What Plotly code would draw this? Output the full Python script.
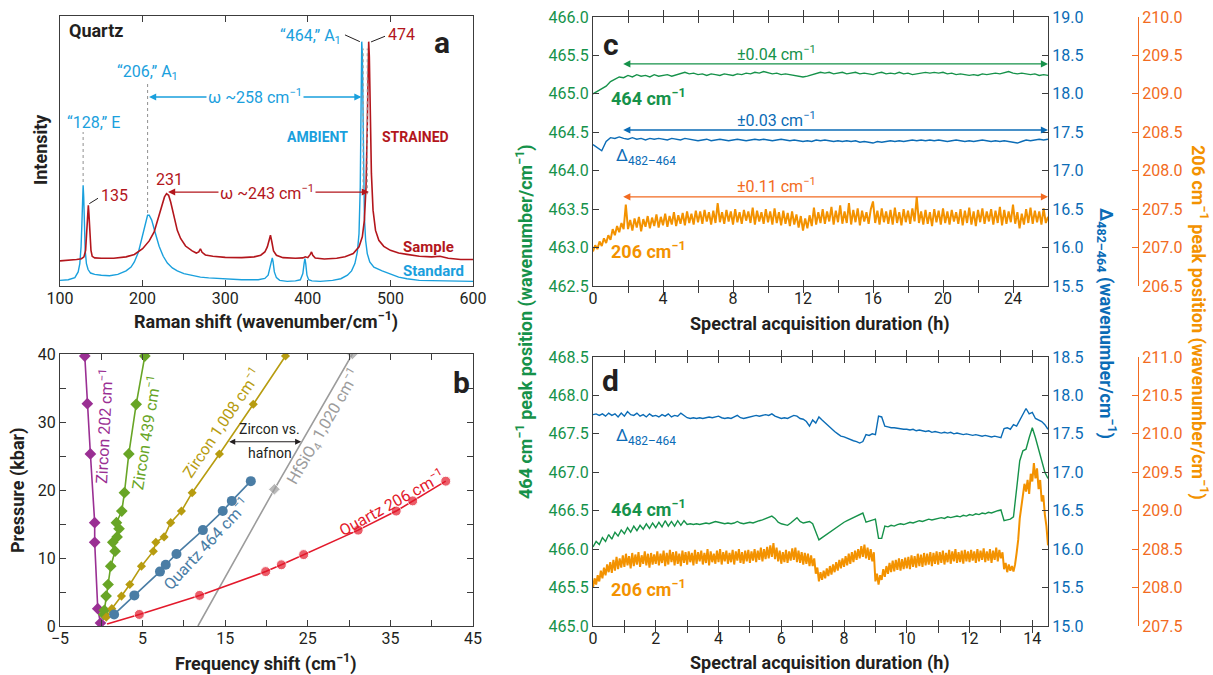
import plotly.graph_objects as go

# ---------------- DATA ----------------
# Panel a: Raman spectra (intensity in arbitrary units)
STD_SHIFT = [100, 110, 118, 122, 124, 125.5, 126.5, 127.3, 128, 128.7, 129.5, 130.5, 132, 134, 137, 142, 150, 160,
             170, 180, 186, 190, 195, 199, 203, 206, 208, 211, 215, 220, 225, 230, 236, 242, 250, 258, 265, 270,
             280, 300, 320, 340, 348, 352, 354.5, 356, 357, 358, 359.5, 362, 366, 375, 385, 391, 394, 395.5, 396.5,
             397.5, 399, 401, 405, 415, 430, 440, 448, 453, 457, 460, 462, 463.5, 464.5, 465.3, 466, 466.7, 467.5,
             468.5, 470, 472, 475, 480, 490, 500, 510, 520, 535, 550, 575, 600]
STD_INT = [2.1, 2.3, 3.1, 5.2, 8.3, 14.5, 23.1, 31.8, 37.3, 33.0, 21.9, 13.2, 8.3, 6.1, 4.8, 4.3, 4.0, 3.8,
           4.3, 5.6, 7.0, 8.9, 12.6, 17.6, 23.1, 26.2, 26.2, 24.4, 20.0, 14.7, 11.0, 8.5, 6.7, 5.6, 4.6, 4.0, 3.6, 3.3,
           3.0, 2.6, 2.3, 2.3, 2.8, 4.0, 7.0, 9.8, 10.4, 8.9, 5.2, 3.1, 2.1, 1.7, 1.9, 2.3, 4.6, 8.3, 10.1,
           8.3, 4.0, 2.3, 1.9, 1.7, 2.1, 2.7, 4.0, 5.6, 8.3, 12.6, 19.4, 36.7, 68.9, 90.5, 86.2, 65.1, 40.4,
           25.6, 16.9, 12.0, 8.9, 7.0, 5.6, 4.3, 3.3, 2.7, 2.1, 2.0, 1.9, 1.7]
SMP_SHIFT = [100, 110, 120, 126, 129, 131, 132.5, 133.5, 134.3, 135, 136, 137.5, 139, 142, 150, 165, 180, 190, 200,
             208, 214, 219, 223, 226.5, 229, 231.5, 234, 238, 242, 246, 252, 260, 265, 268, 270, 272, 276, 285,
             300, 320, 335, 343, 348, 351, 353, 354.8, 356.5, 358.5, 362, 370, 385, 394, 397, 400, 403, 404.5,
             406, 409, 420, 435, 445, 455, 462, 466, 468.5, 470.5, 472, 473, 473.7, 474.5, 475.5, 477, 479, 482,
             486, 492, 500, 510, 520, 535, 550, 560, 570, 585, 600]
SMP_INT = [9.3, 9.5, 9.8, 10.1, 10.8, 13.2, 19.4, 26.8, 29.9, 26.8, 19.4, 13.2, 11.0, 10.4, 10.3, 10.3, 10.8, 11.7, 13.8,
           16.7, 20.0, 25.0, 29.9, 33.0, 34.2, 33.6, 31.1, 25.6, 20.6, 17.6, 14.8, 13.0, 12.2, 12.6, 13.8, 12.5, 11.5, 11.0,
           10.6, 10.5, 10.8, 11.4, 12.6, 14.5, 16.9, 18.8, 16.3, 13.0, 11.4, 10.5, 10.3, 10.4, 10.8, 10.5, 11.7, 12.6,
           11.4, 10.4, 10.0, 10.3, 10.8, 12.0, 14.5, 18.2, 24.4, 36.7, 59.0, 81.2, 90.5, 84.9, 65.1, 41.7, 28.1, 20.6,
           16.9, 14.7, 13.2, 12.2, 11.7, 11.0, 10.8, 11.0, 10.3, 9.8, 9.8]

# Panel b: pressure vs frequency shift
Z202_SHIFT = [-0.1, -0.43, -0.8, -0.8, -1.32, -1.69, -2.0]
Z202_P = [0.44, 2.55, 12.3, 15.2, 25.3, 32.7, 39.7]
Z439_SHIFT = [0.3, 0.37, 0.58, 0.82, 1.14, 1.67, 1.39, 1.91, 2.15, 1.83, 2.48, 2.8, 3.33, 4.22, 5.27]
Z439_P = [1.7, 2.3, 4.4, 6.1, 8.8, 11.0, 12.3, 13.1, 14.3, 15.2, 16.9, 19.6, 25.3, 32.6, 39.7]
Z1008_SHIFT = [0.6, 1.27, 2.44, 3.45, 4.86, 6.3, 6.6, 7.6, 8.4, 9.7, 11.0, 14.3, 18.4, 22.3]
Z1008_P = [1.3, 2.55, 4.4, 6.1, 8.8, 11.0, 12.3, 13.1, 15.2, 16.9, 19.6, 25.3, 32.6, 39.7]
HF_SHIFT = [11.7, 20.95, 30.4]
HF_P = [0.0, 20.1, 40.0]
Q464_SHIFT = [1.55, 4.0, 7.1, 7.8, 9.1, 12.3, 14.7, 15.8, 18.1]
Q464_P = [1.7, 4.5, 8.0, 9.0, 10.6, 14.1, 16.9, 18.4, 21.3]
Q206_SHIFT = [0.7, 4.6, 11.9, 19.9, 21.8, 24.5, 31.1, 35.7, 37.7, 41.7]
Q206_P = [0.3, 1.7, 4.5, 8.0, 9.0, 10.5, 14.1, 16.9, 18.4, 21.3]

# Panel c: 26 h acquisition
C_TIME = [0, 0.25, 0.5, 0.75, 1, 1.25, 1.5, 1.75,
          2, 2.25, 2.5, 2.75, 3, 3.25, 3.5, 3.75,
          4, 4.25, 4.5, 4.75, 5, 5.25, 5.5, 5.75,
          6, 6.25, 6.5, 6.75, 7, 7.25, 7.5, 7.75,
          8, 8.25, 8.5, 8.75, 9, 9.25, 9.5, 9.75,
          10, 10.25, 10.5, 10.75, 11, 11.25, 11.5, 11.75,
          12, 12.25, 12.5, 12.75, 13, 13.25, 13.5, 13.75,
          14, 14.25, 14.5, 14.75, 15, 15.25, 15.5, 15.75,
          16, 16.25, 16.5, 16.75, 17, 17.25, 17.5, 17.75,
          18, 18.25, 18.5, 18.75, 19, 19.25, 19.5, 19.75,
          20, 20.25, 20.5, 20.75, 21, 21.25, 21.5, 21.75,
          22, 22.25, 22.5, 22.75, 23, 23.25, 23.5, 23.75,
          24, 24.25, 24.5, 24.75, 25, 25.25, 25.5, 25.75,
          26]
C_464 = [465.00, 465.03, 465.06, 465.10, 465.16, 465.19, 465.22, 465.21,
         465.24, 465.22, 465.25, 465.23, 465.24, 465.22, 465.25, 465.23,
         465.24, 465.25, 465.23, 465.25, 465.26, 465.28, 465.26, 465.27,
         465.25, 465.26, 465.24, 465.26, 465.25, 465.24, 465.26, 465.25,
         465.24, 465.26, 465.25, 465.27, 465.26, 465.28, 465.27, 465.29,
         465.27, 465.26, 465.27, 465.25, 465.26, 465.25, 465.24, 465.23,
         465.22, 465.23, 465.25, 465.27, 465.28, 465.27, 465.28, 465.26,
         465.27, 465.28, 465.26, 465.27, 465.28, 465.26, 465.27, 465.26,
         465.25, 465.27, 465.28, 465.26, 465.27, 465.26, 465.28, 465.26,
         465.27, 465.25, 465.26, 465.27, 465.28, 465.27, 465.28, 465.27,
         465.28, 465.26, 465.27, 465.25, 465.26, 465.25, 465.24, 465.25,
         465.24, 465.26, 465.25, 465.26, 465.27, 465.26, 465.28, 465.29,
         465.27, 465.26, 465.27, 465.26, 465.25, 465.26, 465.24, 465.25,
         465.24]
C_DELTA = [17.34, 17.30, 17.26, 17.38, 17.43, 17.42, 17.44, 17.42,
           17.41, 17.43, 17.41, 17.42, 17.40, 17.42, 17.41, 17.42,
           17.41, 17.40, 17.42, 17.41, 17.40, 17.42, 17.41, 17.40,
           17.39, 17.40, 17.41, 17.39, 17.40, 17.41, 17.40, 17.39,
           17.40, 17.41, 17.40, 17.39, 17.40, 17.41, 17.40, 17.41,
           17.40, 17.39, 17.40, 17.41, 17.40, 17.39, 17.40, 17.39,
           17.38, 17.39, 17.38, 17.40, 17.39, 17.40, 17.39, 17.38,
           17.39, 17.38, 17.39, 17.38, 17.39, 17.37, 17.38, 17.37,
           17.36, 17.38, 17.37, 17.38, 17.39, 17.38, 17.39, 17.38,
           17.39, 17.40, 17.39, 17.40, 17.39, 17.40, 17.39, 17.40,
           17.39, 17.38, 17.39, 17.40, 17.39, 17.38, 17.39, 17.38,
           17.39, 17.40, 17.39, 17.38, 17.39, 17.38, 17.39, 17.38,
           17.37, 17.36, 17.38, 17.40, 17.39, 17.40, 17.41, 17.40,
           17.41]
C_TIME_206 = [0, 0.125, 0.25, 0.375, 0.5, 0.625, 0.75, 0.875,
              1, 1.125, 1.25, 1.375, 1.5, 1.625, 1.75, 1.875,
              2, 2.125, 2.25, 2.375, 2.5, 2.625, 2.75, 2.875,
              3, 3.125, 3.25, 3.375, 3.5, 3.625, 3.75, 3.875,
              4, 4.125, 4.25, 4.375, 4.5, 4.625, 4.75, 4.875,
              5, 5.125, 5.25, 5.375, 5.5, 5.625, 5.75, 5.875,
              6, 6.125, 6.25, 6.375, 6.5, 6.625, 6.75, 6.875,
              7, 7.125, 7.25, 7.375, 7.5, 7.625, 7.75, 7.875,
              8, 8.125, 8.25, 8.375, 8.5, 8.625, 8.75, 8.875,
              9, 9.125, 9.25, 9.375, 9.5, 9.625, 9.75, 9.875,
              10, 10.125, 10.25, 10.375, 10.5, 10.625, 10.75, 10.875,
              11, 11.125, 11.25, 11.375, 11.5, 11.625, 11.75, 11.875,
              12, 12.125, 12.25, 12.375, 12.5, 12.625, 12.75, 12.875,
              13, 13.125, 13.25, 13.375, 13.5, 13.625, 13.75, 13.875,
              14, 14.125, 14.25, 14.375, 14.5, 14.625, 14.75, 14.875,
              15, 15.125, 15.25, 15.375, 15.5, 15.625, 15.75, 15.875,
              16, 16.125, 16.25, 16.375, 16.5, 16.625, 16.75, 16.875,
              17, 17.125, 17.25, 17.375, 17.5, 17.625, 17.75, 17.875,
              18, 18.125, 18.25, 18.375, 18.5, 18.625, 18.75, 18.875,
              19, 19.125, 19.25, 19.375, 19.5, 19.625, 19.75, 19.875,
              20, 20.125, 20.25, 20.375, 20.5, 20.625, 20.75, 20.875,
              21, 21.125, 21.25, 21.375, 21.5, 21.625, 21.75, 21.875,
              22, 22.125, 22.25, 22.375, 22.5, 22.625, 22.75, 22.875,
              23, 23.125, 23.25, 23.375, 23.5, 23.625, 23.75, 23.875,
              24, 24.125, 24.25, 24.375, 24.5, 24.625, 24.75, 24.875,
              25, 25.125, 25.25, 25.375, 25.5, 25.625, 25.75, 25.875,
              26]
C_206 = [206.95, 207.03, 206.98, 207.08, 207.02, 207.12, 207.06, 207.16,
         207.10, 207.24, 207.16, 207.28, 207.20, 207.32, 207.24, 207.56,
         207.24, 207.36, 207.22, 207.38, 207.26, 207.40, 207.21, 207.37,
         207.27, 207.41, 207.25, 207.39, 207.28, 207.43, 207.26, 207.40,
         207.29, 207.44, 207.27, 207.41, 207.30, 207.46, 207.28, 207.42,
         207.31, 207.45, 207.29, 207.47, 207.32, 207.44, 207.30, 207.48,
         207.33, 207.47, 207.31, 207.49, 207.34, 207.46, 207.30, 207.48,
         207.32, 207.58, 207.33, 207.46, 207.31, 207.49, 207.34, 207.47,
         207.30, 207.50, 207.33, 207.46, 207.31, 207.49, 207.35, 207.47,
         207.32, 207.52, 207.30, 207.48, 207.34, 207.46, 207.31, 207.50,
         207.33, 207.47, 207.30, 207.51, 207.32, 207.46, 207.29, 207.48,
         207.31, 207.45, 207.28, 207.47, 207.30, 207.43, 207.26, 207.41,
         207.22, 207.38, 207.25, 207.42, 207.28, 207.52, 207.30, 207.46,
         207.32, 207.50, 207.31, 207.47, 207.34, 207.53, 207.30, 207.48,
         207.33, 207.55, 207.31, 207.47, 207.32, 207.58, 207.30, 207.49,
         207.33, 207.51, 207.29, 207.48, 207.34, 207.46, 207.31, 207.50,
         207.60, 207.32, 207.48, 207.30, 207.51, 207.33, 207.47, 207.31,
         207.49, 207.30, 207.52, 207.32, 207.46, 207.29, 207.50, 207.33,
         207.48, 207.31, 207.51, 207.34, 207.66, 207.32, 207.47, 207.30,
         207.49, 207.31, 207.46, 207.28, 207.50, 207.33, 207.48, 207.30,
         207.51, 207.32, 207.47, 207.30, 207.49, 207.34, 207.46, 207.31,
         207.50, 207.29, 207.48, 207.32, 207.52, 207.30, 207.47, 207.28,
         207.49, 207.33, 207.51, 207.31, 207.47, 207.34, 207.50, 207.30,
         207.48, 207.32, 207.53, 207.29, 207.49, 207.31, 207.47, 207.33,
         207.56, 207.31, 207.46, 207.25, 207.44, 207.30, 207.50, 207.32,
         207.52, 207.31, 207.48, 207.33, 207.47, 207.30, 207.51, 207.32,
         207.40]

# Panel d: 14.5 h acquisition
D_TIME = [0.0, 0.1, 0.2, 0.3, 0.4, 0.5, 0.6, 0.7, 0.8, 0.9,
          1.0, 1.1, 1.2, 1.3, 1.4, 1.5, 1.6, 1.7, 1.8, 1.9,
          2.0, 2.1, 2.2, 2.3, 2.4, 2.5, 2.6, 2.7, 2.8, 2.9,
          3.0, 3.1, 3.2, 3.3, 3.4, 3.5, 3.6, 3.7, 3.8, 3.9,
          4.0, 4.1, 4.2, 4.3, 4.4, 4.5, 4.6, 4.7, 4.8, 4.9,
          5.0, 5.1, 5.2, 5.3, 5.4, 5.5, 5.6, 5.7, 5.8, 5.9,
          6.0, 6.1, 6.2, 6.3, 6.4, 6.5, 6.6, 6.7, 6.8, 6.9,
          7.0, 7.1, 7.2, 7.3, 7.4, 7.5, 7.6, 7.7, 7.8, 7.9,
          8.0, 8.1, 8.2, 8.3, 8.4, 8.5, 8.6, 8.7, 8.8, 8.9,
          9.0, 9.1, 9.2, 9.3, 9.4, 9.5, 9.6, 9.7, 9.8, 9.9,
          10.0, 10.1, 10.2, 10.3, 10.4, 10.5, 10.6, 10.7, 10.8, 10.9,
          11.0, 11.1, 11.2, 11.3, 11.4, 11.5, 11.6, 11.7, 11.8, 11.9,
          12.0, 12.1, 12.2, 12.3, 12.4, 12.5, 12.6, 12.7, 12.8, 12.9,
          13.0, 13.1, 13.2, 13.3, 13.4, 13.5, 13.6, 13.7, 13.8, 13.9,
          14.0, 14.1, 14.2, 14.3, 14.4, 14.5]
D_464 = [466.03, 466.10, 466.06, 466.15, 466.10, 466.19, 466.13, 466.22, 466.17, 466.25,
         466.20, 466.28, 466.22, 466.30, 466.24, 466.31, 466.26, 466.33, 466.27, 466.34,
         466.28, 466.35, 466.29, 466.37, 466.30, 466.36, 466.30, 466.37, 466.31, 466.37,
         466.32, 466.33, 466.32, 466.33, 466.32, 466.33, 466.34, 466.33, 466.35, 466.36,
         466.35, 466.34, 466.33, 466.34, 466.33, 466.34, 466.36, 466.34, 466.33, 466.34,
         466.35, 466.34, 466.36, 466.37, 466.38, 466.40, 466.42, 466.43, 466.40, 466.35,
         466.33, 466.32, 466.31, 466.34, 466.38, 466.41, 466.36, 466.34, 466.35, 466.36,
         466.33, 466.22, 466.12, 466.15, 466.18, 466.21, 466.24, 466.27, 466.30, 466.32,
         466.35, 466.37, 466.39, 466.41, 466.43, 466.45, 466.47, 466.35, 466.36, 466.38,
         466.39, 466.14, 466.14, 466.30, 466.29, 466.31, 466.30, 466.32, 466.33, 466.32,
         466.34, 466.35, 466.34, 466.36, 466.37, 466.36, 466.38, 466.39, 466.38, 466.39,
         466.40, 466.41, 466.40, 466.42, 466.41, 466.42, 466.43, 466.42, 466.44, 466.43,
         466.45, 466.44, 466.46, 466.45, 466.47, 466.46, 466.48, 466.47, 466.49, 466.50,
         466.51, 466.37, 466.38, 466.39, 466.42, 466.75, 467.15, 467.28, 467.30, 467.45,
         467.58, 467.45, 467.30, 467.15, 467.00, 466.92]
D_DELTA = [17.75, 17.76, 17.74, 17.76, 17.73, 17.77, 17.74, 17.76, 17.72, 17.77,
           17.73, 17.79, 17.75, 17.74, 17.77, 17.73, 17.75, 17.72, 17.76, 17.73,
           17.74, 17.72, 17.75, 17.73, 17.76, 17.72, 17.74, 17.73, 17.77, 17.74,
           17.71, 17.70, 17.71, 17.70, 17.71, 17.70, 17.71, 17.72, 17.71, 17.72,
           17.73, 17.71, 17.70, 17.71, 17.70, 17.72, 17.74, 17.71, 17.70, 17.71,
           17.72, 17.73, 17.74, 17.73, 17.74, 17.75, 17.74, 17.76, 17.73, 17.71,
           17.70, 17.71, 17.70, 17.72, 17.74, 17.73, 17.70, 17.69, 17.66, 17.60,
           17.68, 17.64, 17.72, 17.68, 17.64, 17.60, 17.56, 17.53, 17.50, 17.47,
           17.46, 17.44, 17.42, 17.41, 17.40, 17.38, 17.40, 17.49, 17.48, 17.50,
           17.49, 17.73, 17.72, 17.60, 17.59, 17.58, 17.58, 17.57, 17.57, 17.56,
           17.56, 17.55, 17.56, 17.54, 17.55, 17.54, 17.53, 17.54, 17.52, 17.53,
           17.52, 17.51, 17.52, 17.51, 17.52, 17.50, 17.51, 17.50, 17.49, 17.50,
           17.49, 17.48, 17.49, 17.48, 17.47, 17.48, 17.47, 17.46, 17.47, 17.46,
           17.45, 17.57, 17.58, 17.56, 17.62, 17.60, 17.68, 17.74, 17.83, 17.76,
           17.78, 17.70, 17.68, 17.66, 17.62, 17.56]
D_TIME_206 = [0.0, 0.05, 0.1, 0.15, 0.2, 0.25, 0.3, 0.35, 0.4, 0.45, 0.5, 0.55, 0.6, 0.65, 0.7, 0.75, 0.8, 0.85, 0.9, 0.95,
              1.0, 1.05, 1.1, 1.15, 1.2, 1.25, 1.3, 1.35, 1.4, 1.45, 1.5, 1.55, 1.6, 1.65, 1.7, 1.75, 1.8, 1.85, 1.9, 1.95,
              2.0, 2.05, 2.1, 2.15, 2.2, 2.25, 2.3, 2.35, 2.4, 2.45, 2.5, 2.55, 2.6, 2.65, 2.7, 2.75, 2.8, 2.85, 2.9, 2.95,
              3.0, 3.05, 3.1, 3.15, 3.2, 3.25, 3.3, 3.35, 3.4, 3.45, 3.5, 3.55, 3.6, 3.65, 3.7, 3.75, 3.8, 3.85, 3.9, 3.95,
              4.0, 4.05, 4.1, 4.15, 4.2, 4.25, 4.3, 4.35, 4.4, 4.45, 4.5, 4.55, 4.6, 4.65, 4.7, 4.75, 4.8, 4.85, 4.9, 4.95,
              5.0, 5.05, 5.1, 5.15, 5.2, 5.25, 5.3, 5.35, 5.4, 5.45, 5.5, 5.55, 5.6, 5.65, 5.7, 5.75, 5.8, 5.85, 5.9, 5.95,
              6.0, 6.05, 6.1, 6.15, 6.2, 6.25, 6.3, 6.35, 6.4, 6.45, 6.5, 6.55, 6.6, 6.65, 6.7, 6.75, 6.8, 6.85, 6.9, 6.95,
              7.0, 7.05, 7.1, 7.15, 7.2, 7.25, 7.3, 7.35, 7.4, 7.45, 7.5, 7.55, 7.6, 7.65, 7.7, 7.75, 7.8, 7.85, 7.9, 7.95,
              8.0, 8.05, 8.1, 8.15, 8.2, 8.25, 8.3, 8.35, 8.4, 8.45, 8.5, 8.55, 8.6, 8.65, 8.7, 8.75, 8.8, 8.85, 8.9, 8.95,
              9.0, 9.05, 9.1, 9.15, 9.2, 9.25, 9.3, 9.35, 9.4, 9.45, 9.5, 9.55, 9.6, 9.65, 9.7, 9.75, 9.8, 9.85, 9.9, 9.95,
              10.0, 10.05, 10.1, 10.15, 10.2, 10.25, 10.3, 10.35, 10.4, 10.45, 10.5, 10.55, 10.6, 10.65, 10.7, 10.75, 10.8,
              10.85, 10.9, 10.95,
              11.0, 11.05, 11.1, 11.15, 11.2, 11.25, 11.3, 11.35, 11.4, 11.45, 11.5, 11.55, 11.6, 11.65, 11.7, 11.75, 11.8,
              11.85, 11.9, 11.95,
              12.0, 12.05, 12.1, 12.15, 12.2, 12.25, 12.3, 12.35, 12.4, 12.45, 12.5, 12.55, 12.6, 12.65, 12.7, 12.75, 12.8,
              12.85, 12.9, 12.95,
              13.0, 13.05, 13.1, 13.15, 13.2, 13.25, 13.3, 13.35, 13.4, 13.45, 13.5, 13.55, 13.6, 13.65, 13.7, 13.75, 13.8,
              13.85, 13.9, 13.95,
              14.0, 14.05, 14.1, 14.15, 14.2, 14.25, 14.3, 14.35, 14.4, 14.45, 14.5]
D_206 = [208.00, 208.12, 208.04, 208.16, 208.08, 208.22, 208.12, 208.26, 208.16, 208.30,
         208.20, 208.33, 208.19, 208.36, 208.22, 208.40, 208.24, 208.38, 208.26, 208.42,
         208.27, 208.44, 208.29, 208.41, 208.25, 208.45, 208.28, 208.43, 208.30, 208.46,
         208.27, 208.42, 208.31, 208.47, 208.29, 208.44, 208.26, 208.45, 208.30, 208.43,
         208.31, 208.47, 208.29, 208.44, 208.32, 208.48, 208.28, 208.45, 208.30, 208.49,
         208.33, 208.46, 208.29, 208.47, 208.31, 208.44, 208.28, 208.48, 208.32, 208.46,
         208.30, 208.47, 208.33, 208.45, 208.29, 208.49, 208.31, 208.46, 208.34, 208.48,
         208.30, 208.45, 208.32, 208.50, 208.29, 208.47, 208.33, 208.44, 208.31, 208.48,
         208.33, 208.50, 208.30, 208.46, 208.34, 208.48, 208.31, 208.45, 208.33, 208.49,
         208.30, 208.47, 208.35, 208.50, 208.32, 208.46, 208.31, 208.48, 208.34, 208.49,
         208.32, 208.47, 208.35, 208.50, 208.33, 208.48, 208.36, 208.52, 208.34, 208.50,
         208.37, 208.53, 208.38, 208.55, 208.40, 208.58, 208.37, 208.52, 208.34, 208.48,
         208.31, 208.46, 208.33, 208.49, 208.32, 208.47, 208.35, 208.51, 208.36, 208.52,
         208.33, 208.48, 208.32, 208.46, 208.30, 208.45, 208.31, 208.44, 208.28, 208.42,
         208.28, 208.38, 208.18, 208.26, 208.08, 208.20, 208.10, 208.22, 208.12, 208.25,
         208.15, 208.28, 208.17, 208.30, 208.20, 208.33, 208.22, 208.36, 208.25, 208.38,
         208.27, 208.41, 208.29, 208.44, 208.31, 208.46, 208.33, 208.48, 208.36, 208.50,
         208.38, 208.54, 208.40, 208.56, 208.38, 208.52, 208.36, 208.50, 208.34, 208.46,
         208.08, 208.18, 208.04, 208.16, 208.10, 208.24, 208.14, 208.28, 208.18, 208.32,
         208.20, 208.35, 208.21, 208.36, 208.23, 208.38, 208.22, 208.37, 208.24, 208.39,
         208.25, 208.40, 208.24, 208.42, 208.27, 208.41, 208.26, 208.44, 208.28, 208.43,
         208.27, 208.45, 208.29, 208.44, 208.30, 208.46, 208.28, 208.45, 208.31, 208.47,
         208.30, 208.46, 208.32, 208.48, 208.30, 208.45, 208.33, 208.49, 208.31, 208.47,
         208.34, 208.50, 208.32, 208.46, 208.33, 208.48, 208.31, 208.49, 208.34, 208.47,
         208.33, 208.49, 208.35, 208.47, 208.32, 208.50, 208.34, 208.48, 208.36, 208.51,
         208.33, 208.47, 208.35, 208.50, 208.32, 208.48, 208.36, 208.52, 208.34, 208.49,
         208.38, 208.46, 208.24, 208.32, 208.20, 208.30, 208.22, 208.28, 208.21, 208.30,
         208.45, 208.62, 208.90, 209.05, 209.20, 209.35, 209.25, 209.40, 209.22, 209.48,
         209.38, 209.62, 209.42, 209.55, 209.28, 209.40, 209.12, 209.20, 208.95, 208.80,
         208.55]

# tick labels
A_TICKS = [100, 200, 300, 400, 500, 600]
B_XTICKS = [-5, 0, 5, 10, 15, 20, 25, 30, 35, 40, 45]
B_XTEXT = ['−5', '', '5', '', '15', '', '25', '', '35', '', '45']
B_YTICKS = [0, 5, 10, 15, 20, 25, 30, 35, 40]
B_YTEXT = ['0', '', '10', '', '20', '', '30', '', '40']
C_XTICKS = [0, 2, 4, 6, 8, 10, 12, 14, 16, 18, 20, 22, 24, 26]
C_XTEXT = ['0', '', '4', '', '8', '', '12', '', '16', '', '20', '', '24', '']
D_XTICKS = [0, 1, 2, 3, 4, 5, 6, 7, 8, 9, 10, 11, 12, 13, 14]
D_XTEXT = ['0', '', '2', '', '4', '', '6', '', '8', '', '10', '', '12', '', '14']

# ---------------- STYLE ----------------
FONT = 'Roboto, "Open Sans", sans-serif'
BLACK = '#231f20'
AX = '#3c3c3c'
CYAN = '#1aa0dd'
DRED = '#b3161c'
GREEN = '#16924a'
BLUE = '#0b6cb6'
ORANGE = '#f39200'
ORANGE_AX = '#f26b21'
PURPLE = '#9a2f93'
LGREEN = '#68a526'
OLIVE = '#b79c10'
GREY = '#9c9c9c'
STEEL = '#4a7da5'
RED = '#e3192b'

W, H = 1213, 675


def fx(p):
    return p / W


def fy(p):
    return 1 - p / H


fig = go.Figure()

# Panel a
fig.add_trace(go.Scatter(x=STD_SHIFT, y=STD_INT, mode='lines', line=dict(color=CYAN, width=1.4),
                         xaxis='x', yaxis='y', showlegend=False))
fig.add_trace(go.Scatter(x=SMP_SHIFT, y=SMP_INT, mode='lines', line=dict(color=DRED, width=1.6),
                         xaxis='x', yaxis='y', showlegend=False))


# Panel b
def bseries(x, y, color, symbol, size, width=1.6):
    fig.add_trace(go.Scatter(x=x, y=y, mode='lines+markers', xaxis='x2', yaxis='y2', showlegend=False,
                             line=dict(color=color, width=width),
                             marker=dict(color=color, symbol=symbol, size=size)))


bseries(HF_SHIFT, HF_P, GREY, 'diamond', [0, 9, 9])
bseries(Z202_SHIFT, Z202_P, PURPLE, 'diamond', 9)
bseries(Z439_SHIFT, Z439_P, LGREEN, 'diamond', 9)
bseries(Z1008_SHIFT, Z1008_P, OLIVE, 'diamond', 7)
bseries(Q464_SHIFT, Q464_P, STEEL, 'circle', 10)
bseries(Q206_SHIFT, Q206_P, RED, 'circle', [0] + [10] * 9)

# Panel c
fig.add_trace(go.Scatter(x=C_TIME_206, y=C_206, mode='lines', line=dict(color=ORANGE, width=2.0),
                         xaxis='x3', yaxis='y5', showlegend=False))
fig.add_trace(go.Scatter(x=C_TIME, y=C_464, mode='lines', line=dict(color=GREEN, width=1.4),
                         xaxis='x3', yaxis='y3', showlegend=False))
fig.add_trace(go.Scatter(x=C_TIME, y=C_DELTA, mode='lines', line=dict(color=BLUE, width=1.4),
                         xaxis='x3', yaxis='y4', showlegend=False))
# Panel d
fig.add_trace(go.Scatter(x=D_TIME_206, y=D_206, mode='lines', line=dict(color=ORANGE, width=2.0),
                         xaxis='x4', yaxis='y8', showlegend=False))
fig.add_trace(go.Scatter(x=D_TIME, y=D_464, mode='lines', line=dict(color=GREEN, width=1.4),
                         xaxis='x4', yaxis='y6', showlegend=False))
fig.add_trace(go.Scatter(x=D_TIME, y=D_DELTA, mode='lines', line=dict(color=BLUE, width=1.4),
                         xaxis='x4', yaxis='y7', showlegend=False))

base = dict(showline=True, linecolor=AX, linewidth=1.2, showgrid=False, zeroline=False, automargin=False,
            ticks='inside', ticklen=6, tickwidth=1.1, tickcolor=AX)
tf = dict(family=FONT, size=16, color=BLACK)

xa_dom = [fx(60), fx(473)]
xc_dom = [fx(593), fx(1048)]
ya_dom = [fy(286), fy(16)]
yb_dom = [fy(626), fy(354)]
yc_dom = [fy(286), fy(17)]
yd_dom = [fy(626), fy(357)]

fig.update_layout(
    width=W, height=H, margin=dict(l=0, r=0, t=0, b=0, autoexpand=False),
    paper_bgcolor='white', plot_bgcolor='white',
    font=dict(family=FONT, color=BLACK),
    xaxis=dict(base, domain=xa_dom, range=[100, 600], tickvals=A_TICKS, anchor='y', mirror='allticks',
               tickfont=tf, ticklabelstandoff=-2),
    yaxis=dict(base, domain=ya_dom, range=[0, 100], ticks='', showticklabels=False, mirror=True, anchor='x'),
    xaxis2=dict(base, domain=xa_dom, range=[-5, 45], tickvals=B_XTICKS, ticktext=B_XTEXT, anchor='y2',
                mirror='allticks', tickfont=tf, ticklabelstandoff=-2),
    yaxis2=dict(base, domain=yb_dom, range=[0, 40], tickvals=B_YTICKS, ticktext=B_YTEXT, anchor='x2',
                mirror='allticks', tickfont=tf),
    xaxis3=dict(base, domain=xc_dom, range=[0, 26], tickvals=C_XTICKS, ticktext=C_XTEXT, anchor='y3',
                mirror='allticks', tickfont=tf, ticklabelstandoff=-2),
    yaxis3=dict(base, domain=yc_dom, range=[462.5, 466.0], dtick=0.5, tickformat='.1f', anchor='x3',
                tickfont=dict(family=FONT, size=16, color=GREEN)),
    yaxis4=dict(base, range=[15.5, 19.0], dtick=0.5, tickformat='.1f', anchor='x3', overlaying='y3', side='right',
                tickfont=dict(family=FONT, size=16, color=BLUE)),
    yaxis5=dict(base, range=[206.5, 210.0], dtick=0.5, tickformat='.1f', anchor='free', position=fx(1138),
                overlaying='y3', side='right', linecolor=ORANGE_AX, tickcolor=ORANGE_AX,
                tickfont=dict(family=FONT, size=16, color=ORANGE_AX)),
    xaxis4=dict(base, domain=xc_dom, range=[0, 14.5], tickvals=D_XTICKS, ticktext=D_XTEXT, anchor='y6',
                mirror='allticks', tickfont=tf, ticklabelstandoff=-2),
    yaxis6=dict(base, domain=yd_dom, range=[465.0, 468.5], dtick=0.5, tickformat='.1f', anchor='x4',
                tickfont=dict(family=FONT, size=16, color=GREEN)),
    yaxis7=dict(base, range=[15.0, 18.5], dtick=0.5, tickformat='.1f', anchor='x4', overlaying='y6', side='right',
                tickfont=dict(family=FONT, size=16, color=BLUE)),
    yaxis8=dict(base, range=[207.5, 211.0], dtick=0.5, tickformat='.1f', anchor='free', position=fx(1138),
                overlaying='y6', side='right', linecolor=ORANGE_AX, tickcolor=ORANGE_AX,
                tickfont=dict(family=FONT, size=16, color=ORANGE_AX)),
)

ann = []


def txt(text, x, y, xref, yref, color=BLACK, size=16, bold=False, angle=0, xanchor='center', yanchor='middle',
        bg=None):
    t = '<b>' + text + '</b>' if bold else text
    d = dict(text=t, x=x, y=y, xref=xref, yref=yref, showarrow=False, textangle=angle,
             xanchor=xanchor, yanchor=yanchor, font=dict(family=FONT, size=size, color=color))
    if bg:
        d['bgcolor'] = bg
        d['borderpad'] = 1
    ann.append(d)


def arrow(x0, x1, y, xref, yref, color, width=1.3):
    ann.append(dict(x=x1, y=y, ax=x0, ay=y, xref=xref, yref=yref, axref=xref, ayref=yref, text='',
                    showarrow=True, arrowhead=2, arrowside='end+start', arrowsize=1.1, arrowwidth=width,
                    arrowcolor=color))


shapes = []


def seg(x0, y0, x1, y1, xref, yref, color, width=1.0, dash='solid'):
    shapes.append(dict(type='line', x0=x0, y0=y0, x1=x1, y1=y1, xref=xref, yref=yref,
                       line=dict(color=color, width=width, dash=dash)))


# ----- panel a annotations
seg(128, 38.5, 128, 57, 'x', 'y', '#9a9a9a', 1.1, 'dot')
seg(206, 27, 206, 75, 'x', 'y', '#9a9a9a', 1.1, 'dot')
seg(467, 34, 467, 88, 'x', 'y', '#9a9a9a', 1.1, 'dot')
seg(472, 34, 472, 88, 'x', 'y', '#9a9a9a', 1.1, 'dot')
seg(445, 93, 463, 90.5, 'x', 'y', BLACK, 1.0)
seg(476.6, 90.4, 493.5, 92.5, 'x', 'y', BLACK, 1.0)
seg(135.5, 30.5, 146, 32.5, 'x', 'y', BLACK, 1.0)
arrow(206, 465, 70, 'x', 'y', CYAN)
arrow(229, 474, 34.8, 'x', 'y', DRED)
txt('Quartz', 108, 94.5, 'x', 'y', BLACK, 18, True, xanchor='left')
txt('a', 563, 90, 'x', 'y', BLACK, 30, True)
txt('“128,” E', 141, 60.5, 'x', 'y', CYAN, 16)
txt('“206,” A<sub>1</sub>', 206, 79, 'x', 'y', CYAN, 16)
txt('ω ~258 cm<sup>−1</sup>', 336, 70, 'x', 'y', CYAN, 16, bg='white')
txt('“464,” A<sub>1</sub>', 443, 92.5, 'x', 'y', CYAN, 16, xanchor='right')
txt('474', 495, 93, 'x', 'y', DRED, 16, xanchor='left')
txt('AMBIENT', 451, 55.2, 'x', 'y', CYAN, 14, True, xanchor='right')
txt('STRAINED', 487, 55.2, 'x', 'y', DRED, 14, True, xanchor='left')
txt('231', 232, 39.5, 'x', 'y', DRED, 16)
txt('135', 147, 33.7, 'x', 'y', DRED, 16, xanchor='left')
txt('ω ~243 cm<sup>−1</sup>', 350, 34.8, 'x', 'y', DRED, 16, bg='white')
txt('Sample', 513, 14.5, 'x', 'y', DRED, 15, True, xanchor='left')
txt('Standard', 513, 5.6, 'x', 'y', CYAN, 15, True, xanchor='left')

# ----- panel b annotations
txt('b', 43.6, 35.8, 'x2', 'y2', BLACK, 30, True)
txt('Zircon 202 cm<sup>−1</sup>', 0.33, 29.3, 'x2', 'y2', PURPLE, 16, angle=-87)
txt('Zircon 439 cm<sup>−1</sup>', 5.45, 28.4, 'x2', 'y2', LGREEN, 16, angle=-81)
txt('Zircon 1,008 cm<sup>−1</sup>', 14.6, 29.9, 'x2', 'y2', OLIVE, 16, angle=-56)
txt('HfSiO<sub>4</sub> 1,020 cm<sup>−1</sup>', 26.96, 29.3, 'x2', 'y2', GREY, 16, angle=-60)
txt('Quartz 464 cm<sup>−1</sup>', 12.7, 12.2, 'x2', 'y2', STEEL, 16, angle=-47)
txt('Quartz 206 cm<sup>−1</sup>', 35.2, 18.1, 'x2', 'y2', RED, 16, angle=-29)
txt('Zircon vs.', 20.4, 28.9, 'x2', 'y2', BLACK, 14)
txt('hafnon', 20.4, 25.5, 'x2', 'y2', BLACK, 14)
arrow(15.3, 24.2, 27.1, 'x2', 'y2', BLACK, 1.1)

# ----- panel c annotations
txt('c', 1.0, 465.64, 'x3', 'y3', BLACK, 30, True)
arrow(1.64, 26, 465.39, 'x3', 'y3', GREEN)
arrow(1.64, 26, 464.53, 'x3', 'y3', BLUE)
arrow(1.64, 26, 463.66, 'x3', 'y3', ORANGE_AX)
txt('±0.04 cm<sup>−1</sup>', 10.5, 465.53, 'x3', 'y3', GREEN, 16)
txt('±0.03 cm<sup>−1</sup>', 10.5, 464.66, 'x3', 'y3', BLUE, 16)
txt('±0.11 cm<sup>−1</sup>', 10.5, 463.81, 'x3', 'y3', ORANGE_AX, 16)
txt('464 cm<sup>−1</sup>', 0.9, 464.96, 'x3', 'y3', GREEN, 18, True, xanchor='left')
txt('Δ<sub>482–464</sub>', 1.2, 464.18, 'x3', 'y3', BLUE, 17, xanchor='left')
txt('206 cm<sup>−1</sup>', 0.9, 462.97, 'x3', 'y3', ORANGE, 18, True, xanchor='left')

# ----- panel d annotations
txt('d', 0.57, 468.2, 'x4', 'y6', BLACK, 30, True)
txt('Δ<sub>482–464</sub>', 0.67, 467.47, 'x4', 'y6', BLUE, 17, xanchor='left')
txt('464 cm<sup>−1</sup>', 0.51, 466.54, 'x4', 'y6', GREEN, 18, True, xanchor='left')
txt('206 cm<sup>−1</sup>', 0.51, 465.5, 'x4', 'y6', ORANGE, 18, True, xanchor='left')

# ----- axis titles
txt('Raman shift (wavenumber/cm<sup>−1</sup>)', fx(266), fy(320), 'paper', 'paper', BLACK, 18, True)
txt('Intensity', fx(40), fy(150), 'paper', 'paper', BLACK, 18, True, angle=-90)
txt('Frequency shift (cm<sup>−1</sup>)', fx(266), fy(662), 'paper', 'paper', BLACK, 18, True)
txt('Pressure (kbar)', fx(18), fy(490), 'paper', 'paper', BLACK, 18, True, angle=-90)
txt('Spectral acquisition duration (h)', fx(820), fy(324), 'paper', 'paper', BLACK, 18, True)
txt('Spectral acquisition duration (h)', fx(820), fy(663), 'paper', 'paper', BLACK, 18, True)
txt('464 cm<sup>−1</sup> peak position (wavenumber/cm<sup>−1</sup>)', fx(524), fy(322), 'paper', 'paper',
    GREEN, 18, True, angle=-90)
txt('Δ<sub>482–464</sub> (wavenumber/cm<sup>−1</sup>)', fx(1107), fy(323), 'paper', 'paper',
    BLUE, 18, True, angle=90)
txt('206 cm<sup>−1</sup> peak position (wavenumber/cm<sup>−1</sup>)', fx(1200), fy(322), 'paper', 'paper',
    ORANGE, 18, True, angle=90)

fig.update_layout(annotations=ann, shapes=shapes)
fig.write_html('out.html', config={'displayModeBar': False},
               post_script="document.body.style.margin='0';document.body.style.overflow='hidden';")
